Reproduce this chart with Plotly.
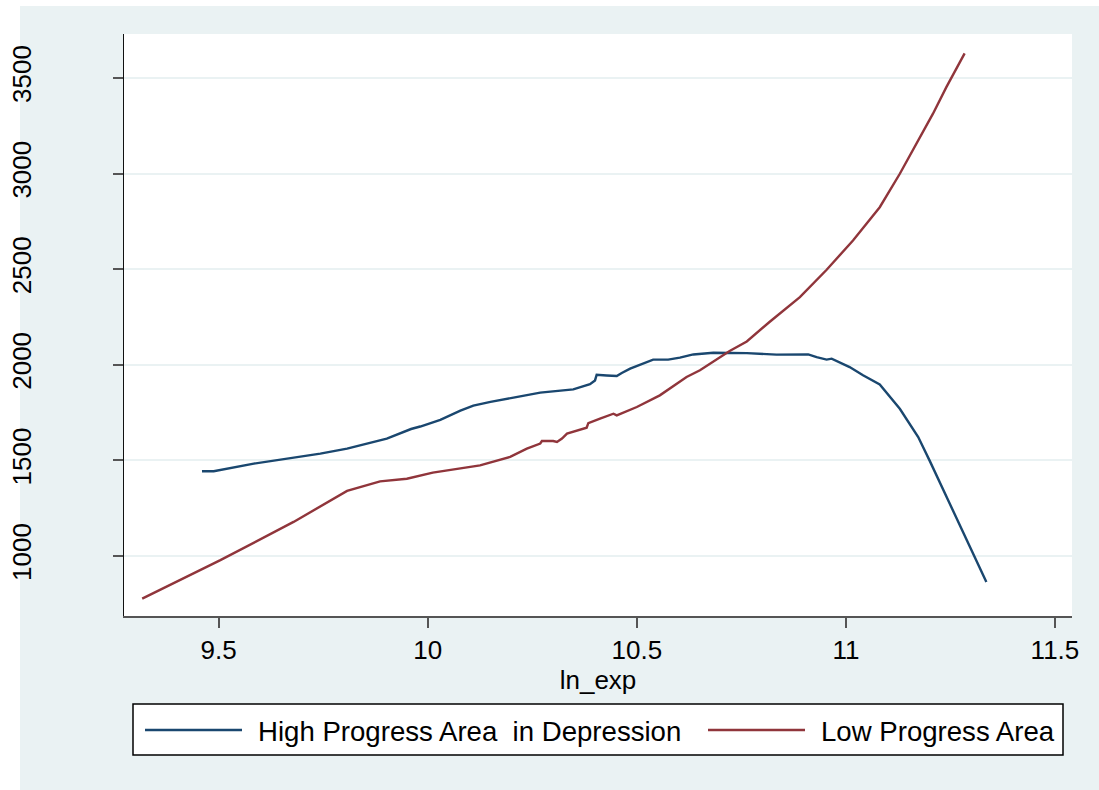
import plotly.graph_objects as go

# ---- data ----
high_x = [9.460, 9.488, 9.584, 9.743, 9.807, 9.902, 9.960, 9.982, 10.030, 10.078,
          10.109, 10.150, 10.205, 10.269, 10.348, 10.388, 10.400, 10.404, 10.428, 10.452, 10.464,
          10.484, 10.539, 10.575, 10.603, 10.635, 10.683, 10.763, 10.834, 10.866, 10.910,
          10.930, 10.954, 10.966, 11.009, 11.041, 11.081, 11.129, 11.153, 11.173, 11.200,
          11.256, 11.336]
high_y = [1443, 1443, 1483, 1535, 1561, 1614, 1664, 1677, 1712, 1760,
          1786, 1806, 1828, 1854, 1871, 1898, 1918, 1948, 1944, 1941, 1957,
          1980, 2027, 2027, 2037, 2054, 2063, 2061, 2053, 2054, 2054,
          2040, 2027, 2032, 1988, 1945, 1897, 1770, 1692, 1622, 1500,
          1239, 864]

low_x = [9.317, 9.504, 9.679, 9.807, 9.886, 9.950, 10.012, 10.125, 10.197, 10.237,
         10.269, 10.273, 10.300, 10.309, 10.321, 10.333, 10.380, 10.384, 10.412, 10.444,
         10.452, 10.500, 10.555, 10.619, 10.651, 10.683, 10.722, 10.763, 10.818, 10.890,
         10.954, 11.017, 11.081, 11.129, 11.169, 11.208, 11.240, 11.284]
low_y = [777, 978, 1178, 1340, 1390, 1404, 1436, 1474, 1518, 1561,
         1588, 1601, 1601, 1596, 1614, 1640, 1671, 1695, 1718, 1744,
         1735, 1779, 1840, 1936, 1971, 2018, 2072, 2122, 2225, 2354,
         2497, 2650, 2824, 2999, 3156, 3312, 3451, 3629]

series_names = ["High Progress Area \u00a0in Depression", "Low Progress Area"]
x_ticks = [9.5, 10, 10.5, 11, 11.5]
x_tick_labels = ["9.5", "10", "10.5", "11", "11.5"]
y_ticks = [1000, 1500, 2000, 2500, 3000, 3500]
y_tick_labels = ["1000", "1500", "2000", "2500", "3000", "3500"]

BLUE = "#1a476f"
RED = "#90353b"
BG = "#eaf2f3"
FONT = "Liberation Sans, Arial, sans-serif"

W, H = 1099, 790
ML, MR, MT, MB = 124, 27, 34, 174
PW, PH = W - ML - MR, H - MT - MB


def px_x(p):
    return (p - ML) / PW


def px_y(p):
    return (H - MB - p) / PH


fig = go.Figure()
fig.add_trace(go.Scatter(x=high_x, y=high_y, mode="lines", name=series_names[0],
                         line=dict(color=BLUE, width=2.4), showlegend=False))
fig.add_trace(go.Scatter(x=low_x, y=low_y, mode="lines", name=series_names[1],
                         line=dict(color=RED, width=2.4), showlegend=False))

shapes = [
    # outer graph region background
    dict(type="rect", xref="paper", yref="paper", layer="below",
         x0=px_x(20), x1=px_x(W + 5), y0=px_y(H + 5), y1=px_y(6),
         fillcolor=BG, line=dict(width=0)),
    # plot region (white)
    dict(type="rect", xref="paper", yref="paper", layer="below",
         x0=0, x1=1, y0=0, y1=1,
         fillcolor="white", line=dict(width=0)),
    # legend box
    dict(type="rect", xref="paper", yref="paper",
         x0=px_x(133), x1=px_x(1063), y0=px_y(755), y1=px_y(704),
         fillcolor="white", line=dict(color="black", width=1.5)),
    dict(type="line", xref="paper", yref="paper",
         x0=px_x(145), x1=px_x(242), y0=px_y(730), y1=px_y(730),
         line=dict(color=BLUE, width=2.5)),
    dict(type="line", xref="paper", yref="paper",
         x0=px_x(708), x1=px_x(805), y0=px_y(730), y1=px_y(730),
         line=dict(color=RED, width=2.5)),
]

annotations = [
    dict(xref="paper", yref="paper", x=px_x(256), y=px_y(731), text=series_names[0],
         showarrow=False, xanchor="left", yanchor="middle",
         font=dict(family=FONT, size=27.6, color="black")),
    dict(xref="paper", yref="paper", x=px_x(819), y=px_y(731), text=series_names[1],
         showarrow=False, xanchor="left", yanchor="middle",
         font=dict(family=FONT, size=27.6, color="black")),
]

fig.update_layout(
    width=W, height=H,
    margin=dict(l=ML, r=MR, t=MT, b=MB, pad=0, autoexpand=False),
    paper_bgcolor="white",
    plot_bgcolor="white",
    font=dict(family=FONT, size=26, color="black"),
    shapes=shapes,
    annotations=annotations,
    showlegend=False,
    xaxis=dict(
        range=[9.2735, 11.5408],
        tickvals=x_ticks, ticktext=x_tick_labels,
        showgrid=False, zeroline=False, automargin=False,
        showline=True, linecolor="#555555", linewidth=1.5,
        ticks="outside", ticklen=10, tickwidth=1.5, tickcolor="#555555",
        tickfont=dict(family=FONT, size=26, color="black"),
        title=dict(text="ln_exp", font=dict(family=FONT, size=26, color="black"), standoff=2),
    ),
    yaxis=dict(
        range=[686, 3730],
        tickvals=y_ticks, ticktext=y_tick_labels,
        showgrid=True, gridcolor=BG, gridwidth=2,
        zeroline=False, automargin=False,
        showline=True, linecolor="#111111", linewidth=1.2,
        ticks="outside", ticklen=10, tickwidth=1.5, tickcolor="#555555",
        tickangle=-90,
        ticklabelstandoff=72,
        tickfont=dict(family=FONT, size=26, color="black"),
    ),
)

fig.write_html("out.html")
